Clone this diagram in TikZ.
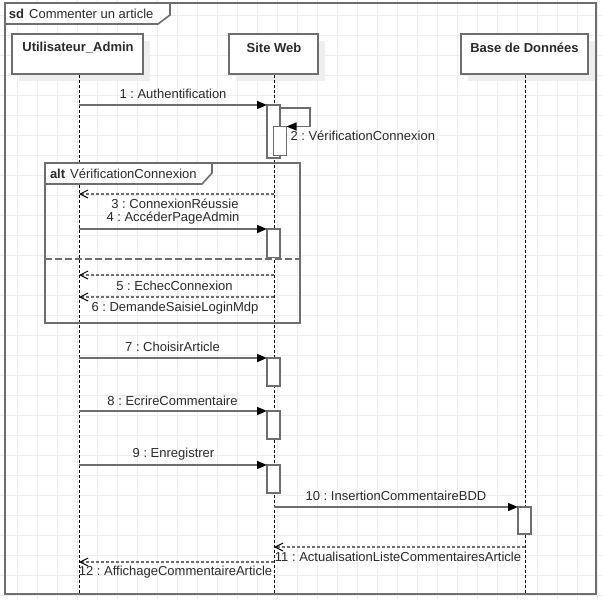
\documentclass[tikz,border=0pt]{standalone}
\usepackage{fontspec}
\setmainfont{Liberation Sans}
\usetikzlibrary{arrows.meta}
\definecolor{ln}{HTML}{6E6E6E}
\definecolor{tx}{HTML}{2A2A2A}
\definecolor{gridc}{HTML}{EDEDED}
\definecolor{shad}{HTML}{EEEEEE}
\frenchspacing
\begin{document}
\begin{tikzpicture}[x=1pt,y=-1pt,
  every node/.style={font=\fontsize{13}{15}\selectfont, text=tx, inner sep=0pt, outer sep=0pt},
  headbox/.style={draw=ln, line width=1.5pt, fill=white, anchor=north west, minimum width=#1, minimum height=40pt},
  headtxt/.style={font=\fontsize{13}{15}\selectfont\bfseries},
  actbox/.style={draw=ln, line width=1.5pt, fill=white, anchor=north west, minimum width=13pt, minimum height=#1},
  frameline/.style={draw=ln, line width=1.6pt},
  lifeline/.style={draw=black, line width=0.9pt, dash pattern=on 3pt off 2pt},
  msg/.style={draw=ln, line width=1.4pt, -{Triangle[length=10pt,width=8pt,fill=black,color=black]}},
  ret/.style={draw=ln, line width=1.2pt, dash pattern=on 3pt off 2pt, -{Straight Barb[length=8pt,width=8pt,line width=1pt,color=black]}},
  lbl/.style={anchor=center}
]
\useasboundingbox (0,0) rectangle (603,600);
\fill[white] (0,0) rectangle (603,600);
% grid
\foreach \gx in {17,37,...,597} \draw[gridc, line width=0.8pt] (\gx,0) -- (\gx,600);
\foreach \gy in {15,35,...,595} \draw[gridc, line width=0.8pt] (0,\gy) -- (603,\gy);

% outer frame
\draw[frameline] (5,3) rectangle (596,594);
\draw[frameline, fill=white] (5,3) -- (170,3) -- (170,15) -- (158,24) -- (5,24) -- cycle;
\node[anchor=west] (ttl) at (9,14) {\textbf{sd}\hspace{5pt}Commenter un article};

% lifeline shadows
\fill[shad] (19,41) rectangle (150,81);
\fill[shad] (236,41) rectangle (325,81);
\fill[shad] (468,41) rectangle (595,81);

% heads
\node[headbox=131pt] (hU) at (12,34) {};
\node[headbox=89pt] (hS) at (229,34) {};
\node[headbox=127pt] (hB) at (461,34) {};
\node[headtxt] (tU) at (78,48) {Utilisateur\_Admin};
\node[headtxt] (tS) at (274,48) {Site Web};
\node[headtxt] (tB) at (524.5,48) {Base de Données};

% lifelines
\coordinate (uEnd) at (79,594);
\coordinate (sEnd) at (274,594);
\coordinate (bEnd) at (525,594);
\coordinate (uTop) at (79,74.75);
\coordinate (sTop) at (274,74.75);
\coordinate (bTop) at (525,74.75);
\draw[lifeline] (uTop) -- (uEnd);
\draw[lifeline] (sTop) -- (sEnd);
\draw[lifeline] (bTop) -- (bEnd);

% alt frame
\draw[frameline] (45,163) rectangle (300,323);
\draw[frameline, fill=white] (45,163) -- (212,163) -- (212,173) -- (202,184) -- (45,184) -- cycle;
\node[anchor=west] (alt) at (50,174) {\textbf{alt}\hspace{5pt}VérificationConnexion};
\coordinate (sepL) at (45,259);
\coordinate (sepR) at (300,259);
\draw[draw=ln, line width=1.6pt, dash pattern=on 7pt off 3pt] (sepL) -- (sepR);

% activations
\node[actbox=53pt] (a1) at (267,105) {};
\node[actbox=29pt] (a2) at (273.5,126.5) {};
\node[actbox=28.5pt] (a3) at (267,229) {};
\node[actbox=28pt] (a4) at (267,358) {};
\node[actbox=28pt] (a5) at (267,411) {};
\node[actbox=28pt] (a6) at (267,465) {};
\node[actbox=27pt] (a7) at (518,507) {};

% message 1
\coordinate (u1) at (79,105);
\draw[msg] (u1) -- (a1.north west);
\node[lbl] at (173,94) {1 : Authentification};
% message 2 (self)
\coordinate (s2a) at (280,108);
\coordinate (s2b) at (310,108);
\draw[msg] (s2a) -- (s2b) |- (a2.north east);
\node[anchor=west] at (290.5,136) {2 : VérificationConnexion};

% message 3
\coordinate (s3) at (274,194);
\coordinate (u3) at (79,194);
\draw[ret] (s3) -- (u3);
\node[lbl] at (175,204) {3 : ConnexionRéussie};
% message 4
\coordinate (u4) at (79,229);
\draw[msg] (u4) -- (a3.north west);
\node[lbl] at (173,218) {4 : AccéderPageAdmin};
% message 5
\coordinate (s5) at (274,275);
\coordinate (u5) at (79,275);
\draw[ret] (s5) -- (u5);
\node[lbl] at (174.5,286) {5 : EchecConnexion};
% message 6
\coordinate (s6) at (274,297);
\coordinate (u6) at (79,297);
\draw[ret] (s6) -- (u6);
\node[lbl] at (175,308.5) {6 : DemandeSaisieLoginMdp};

% message 7
\coordinate (u7) at (79,358);
\draw[msg] (u7) -- (a4.north west);
\node[lbl] at (172.5,347) {7 : ChoisirArticle};
% message 8
\coordinate (u8) at (79,411);
\draw[msg] (u8) -- (a5.north west);
\node[lbl] at (172.5,400.5) {8 : EcrireCommentaire};
% message 9
\coordinate (u9) at (79,465);
\draw[msg] (u9) -- (a6.north west);
\node[lbl] at (173.5,454) {9 : Enregistrer};
% message 10
\coordinate (s10) at (274,507);
\draw[msg] (s10) -- (a7.north west);
\node[lbl] at (396,496) {10 : InsertionCommentaireBDD};
% message 11
\coordinate (b11) at (525,547);
\coordinate (s11) at (274,547);
\draw[ret] (b11) -- (s11);
\node[lbl] at (398,557) {11 : ActualisationListeCommentairesArticle};
% message 12
\coordinate (s12) at (274,562);
\coordinate (u12) at (79,562);
\draw[ret] (s12) -- (u12);
\node[lbl] at (175.5,572) {12 : AffichageCommentaireArticle};
\end{tikzpicture}
\end{document}
